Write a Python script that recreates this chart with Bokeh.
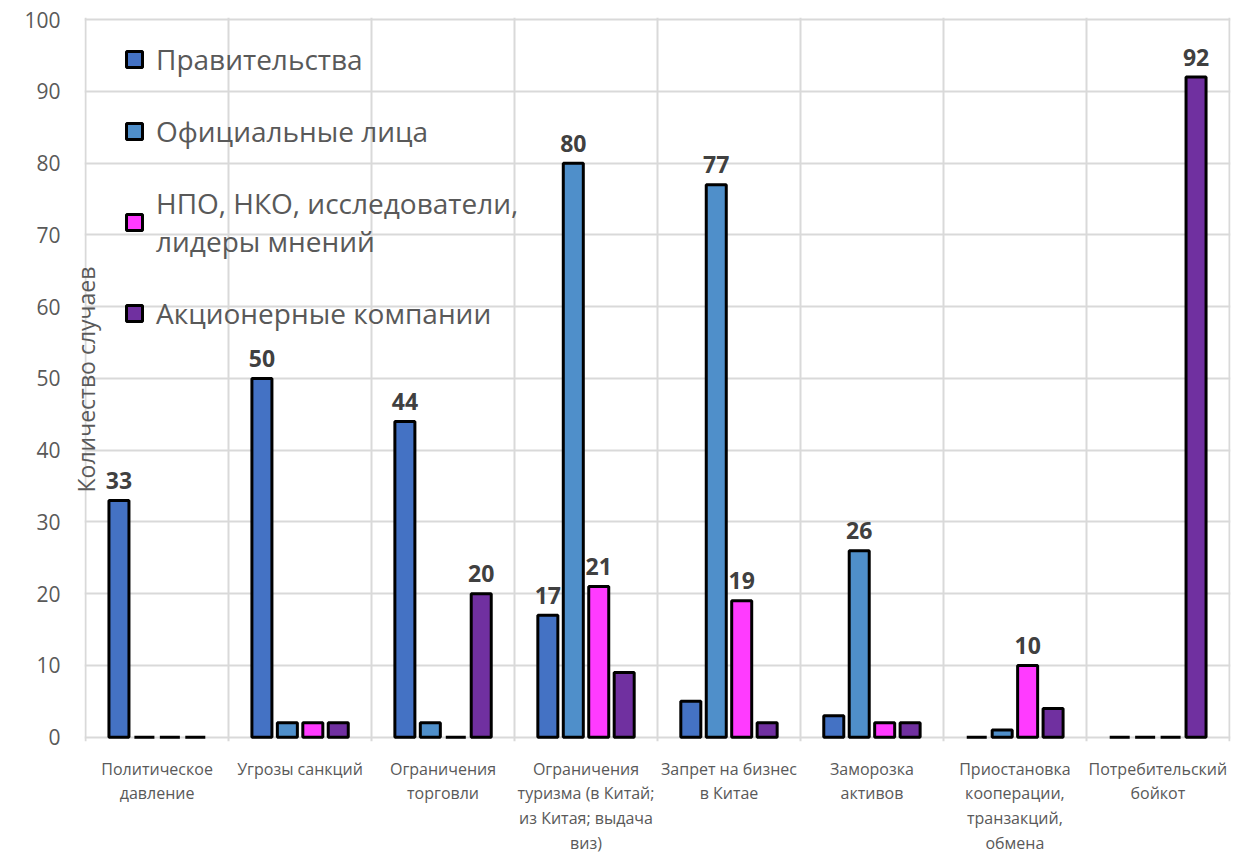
import math
from bokeh.plotting import figure
from bokeh.models import (ColumnDataSource, FactorRange, Range1d, FixedTicker,
                          Legend, LegendItem)
from bokeh.transform import dodge
from bokeh.core.properties import value
from bokeh.embed import file_html
from bokeh.resources import INLINE

# ---- data ----
categories = [
    "Политическое\nдавление",
    "Угрозы санкций",
    "Ограничения\nторговли",
    "Ограничения\nтуризма (в Китай;\nиз Китая; выдача\nвиз)",
    "Запрет на бизнес\nв Китае",
    "Заморозка\nактивов",
    "Приостановка\nкооперации,\nтранзакций,\nобмена",
    "Потребительский\nбойкот",
]
governments = [33, 50, 44, 17, 5, 3, 0, 0]
officials = [0, 2, 2, 80, 77, 26, 1, 0]
ngos = [0, 2, 0, 21, 19, 2, 10, 0]
companies = [0, 2, 20, 9, 2, 2, 4, 92]
series_names = [
    "Правительства",
    "Официальные лица",
    "НПО, НКО, исследователи,\nлидеры мнений",
    "Акционерные компании",
]
y_ticks = list(range(0, 101, 10))
label_threshold = 10
y_axis_title = "Количество случаев"

# ---- styling ----
colors = ["#4472C4", "#4F8FCA", "#FF3BFF", "#7030A0"]
offsets = [-0.267, -0.089, 0.089, 0.267]
FONT = "Open Sans"
GRAY = "#595959"
GRID = "#d9d9d9"

p = figure(
    x_range=FactorRange(factors=categories, range_padding=0.002),
    y_range=Range1d(-0.6, 100.3),
    frame_width=1146, frame_height=724,
    min_border_left=84, min_border_right=10, min_border_top=17, min_border_bottom=104,
    output_backend="svg", toolbar_location=None,
)
p.outline_line_color = None
p.background_fill_color = "white"
p.border_fill_color = "white"

all_series = [governments, officials, ngos, companies]
src = ColumnDataSource(dict(cat=categories, s0=governments, s1=officials, s2=ngos, s3=companies))

renderers = []
for i, vals in enumerate(all_series):
    r = p.vbar(x=dodge("cat", offsets[i], range=p.x_range), top="s%d" % i, width=0.14,
               source=src, fill_color=colors[i], line_color="black", line_width=3)
    renderers.append(r)
    lx = [c for c, v in zip(categories, vals) if v >= label_threshold]
    ly = [v for v in vals if v >= label_threshold]
    lsrc = ColumnDataSource(dict(cat=lx, val=ly, txt=[str(v) for v in ly]))
    p.text(x=dodge("cat", offsets[i], range=p.x_range), y="val", text="txt", source=lsrc,
           text_align="center", text_baseline="alphabetic", y_offset=-20,
           text_font=value(FONT), text_font_style="bold", text_font_size="23px",
           text_color="#404040")

legend = Legend(
    items=[LegendItem(label=series_names[i], renderers=[renderers[i]]) for i in range(4)],
    location=(40, 409), margin=0, padding=0, spacing=34,
    glyph_width=20, glyph_height=20, label_standoff=12,
    label_text_font=FONT, label_text_font_size="28px", label_text_color=GRAY,
    label_text_line_height=1.3,
    background_fill_alpha=0, border_line_alpha=0,
)
p.add_layout(legend)

# axes
p.xaxis.major_label_text_font = FONT
p.xaxis.major_label_text_font_size = "16px"
p.xaxis.major_label_text_color = GRAY
p.xaxis.major_label_text_line_height = 1.13
p.xaxis.major_label_standoff = 10
p.xaxis.axis_line_color = None
p.xaxis.major_tick_line_color = None
p.xaxis.minor_tick_line_color = None

p.yaxis.ticker = FixedTicker(ticks=y_ticks)
p.yaxis.major_label_text_font = FONT
p.yaxis.major_label_text_font_size = "21px"
p.yaxis.major_label_text_color = GRAY
p.yaxis.major_label_standoff = 18
p.yaxis.axis_line_color = None
p.yaxis.major_tick_line_color = None
p.yaxis.minor_tick_line_color = None
p.yaxis.axis_label = y_axis_title
p.yaxis.axis_label_text_font = FONT
p.yaxis.axis_label_text_font_size = "23px"
p.yaxis.axis_label_text_font_style = "normal"
p.yaxis.axis_label_text_color = GRAY
p.yaxis.axis_label_standoff = -81

p.ygrid.ticker = FixedTicker(ticks=y_ticks)
p.ygrid.grid_line_color = GRID
p.ygrid.grid_line_width = 2
p.xgrid.ticker = FixedTicker(ticks=list(range(len(categories) + 1)))
p.xgrid.grid_line_color = GRID
p.xgrid.grid_line_width = 2

open("out.html", "w").write(file_html(p, INLINE))
